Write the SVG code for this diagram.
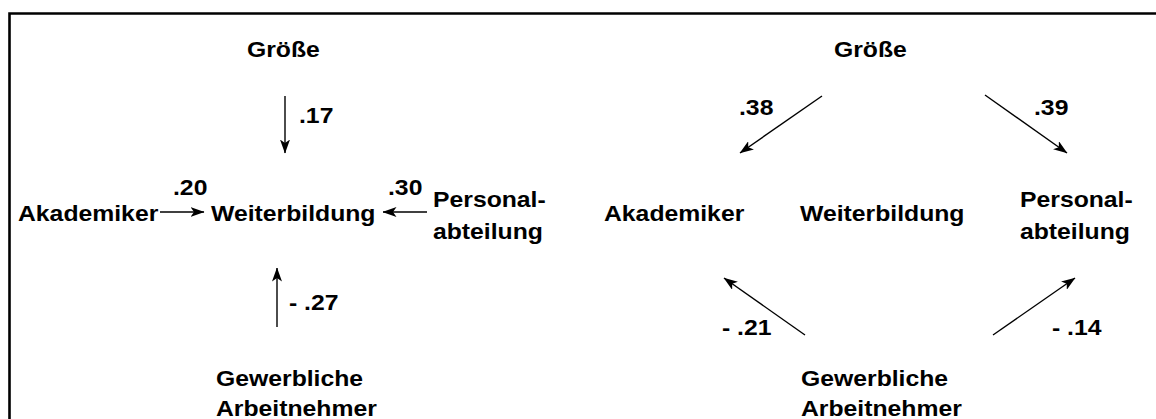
<svg xmlns="http://www.w3.org/2000/svg" width="1156" height="419" viewBox="0 0 1156 419">
<style>
.t { font-family: "Liberation Sans", Arial, sans-serif; font-weight: bold; font-size: 22.5px; fill: #000; }
.c { stroke: #000; stroke-width: 1.4; fill: none; marker-end: url(#ah); }
</style>
<defs>
<marker id="ah" viewBox="0 0 14 10" refX="13.5" refY="5" markerWidth="14" markerHeight="10" markerUnits="userSpaceOnUse" orient="auto">
<path d="M0,0 L14,5 L0,10 L3.5,5 Z" fill="#000"/>
</marker>
</defs>
<rect width="1156" height="419" fill="#fff"/>
<path d="M9.5,419 V13.5 H1156" stroke="#000" stroke-width="2.6" fill="none"/>

<g id="left-panel">
<g id="l-groesse"><text class="t" transform="translate(247,57) scale(1.1,1)">Größe</text></g>
<g id="l-akademiker"><text class="t" transform="translate(18,221) scale(1.1,1)">Akademiker</text></g>
<g id="l-weiterbildung"><text class="t" transform="translate(211,221) scale(1.1,1)">Weiterbildung</text></g>
<g id="l-personal"><text class="t" transform="translate(433,207) scale(1.1,1)"><tspan x="0" y="0">Personal-</tspan><tspan x="0" y="32">abteilung</tspan></text></g>
<g id="l-gewerbliche"><text class="t" transform="translate(216,386) scale(1.1,1)"><tspan x="0" y="0">Gewerbliche</tspan><tspan x="0" y="30">Arbeitnehmer</tspan></text></g>
</g>

<g id="right-panel">
<g id="r-groesse"><text class="t" transform="translate(834,57) scale(1.1,1)">Größe</text></g>
<g id="r-akademiker"><text class="t" transform="translate(604,221) scale(1.1,1)">Akademiker</text></g>
<g id="r-weiterbildung"><text class="t" transform="translate(800,221) scale(1.1,1)">Weiterbildung</text></g>
<g id="r-personal"><text class="t" transform="translate(1020,207) scale(1.1,1)"><tspan x="0" y="0">Personal-</tspan><tspan x="0" y="32">abteilung</tspan></text></g>
<g id="r-gewerbliche"><text class="t" transform="translate(801,386) scale(1.1,1)"><tspan x="0" y="0">Gewerbliche</tspan><tspan x="0" y="30">Arbeitnehmer</tspan></text></g>
</g>

<g id="connectors">
<line class="c" x1="285" y1="96" x2="285" y2="153"/>
<line class="c" x1="160" y1="212" x2="204" y2="212"/>
<line class="c" x1="427" y1="212" x2="383" y2="212"/>
<line class="c" x1="277" y1="327" x2="277" y2="268"/>
<line class="c" x1="822" y1="96" x2="740" y2="153"/>
<line class="c" x1="985" y1="95" x2="1067" y2="153"/>
<line class="c" x1="805" y1="335" x2="724" y2="278"/>
<line class="c" x1="993" y1="335" x2="1075" y2="278"/>
</g>

<g id="labels">
<text class="t" transform="translate(299,123) scale(1.1,1)">.17</text>
<text class="t" transform="translate(173,195) scale(1.1,1)">.20</text>
<text class="t" transform="translate(388,195) scale(1.1,1)">.30</text>
<text class="t" transform="translate(289,310) scale(1.1,1)">- .27</text>
<text class="t" transform="translate(739,115) scale(1.1,1)">.38</text>
<text class="t" transform="translate(1034,115) scale(1.1,1)">.39</text>
<text class="t" transform="translate(722,335) scale(1.1,1)">- .21</text>
<text class="t" transform="translate(1052,335) scale(1.1,1)">- .14</text>
</g>
</svg>
